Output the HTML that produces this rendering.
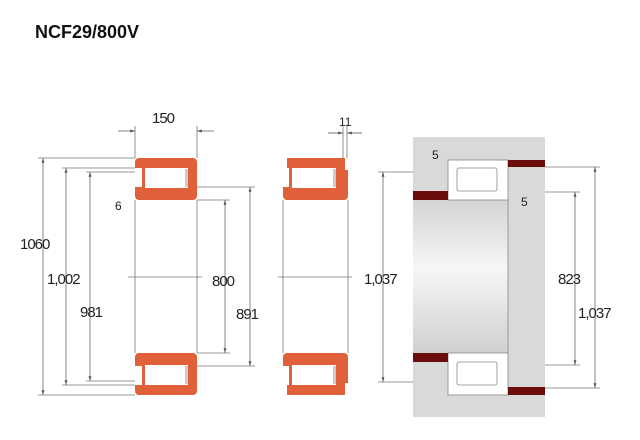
<!DOCTYPE html>
<html><head><meta charset="utf-8"><style>
body{margin:0;background:#fff}
svg{display:block}
text{font-family:"Liberation Sans",sans-serif;fill:#222}
</style></head><body>
<svg width="640" height="440" viewBox="0 0 640 440" xmlns="http://www.w3.org/2000/svg">
<defs>
<marker id="a" viewBox="0 0 10 10" refX="10" refY="5" markerWidth="6" markerHeight="6" orient="auto-start-reverse"><path d="M0,2 L10,5 L0,8z" fill="#555"/></marker>
<linearGradient id="sh" x1="0" y1="0" x2="0" y2="1"><stop offset="0" stop-color="#d4d4d4"/><stop offset="0.45" stop-color="#f6f6f6"/><stop offset="1" stop-color="#d0d0d0"/></linearGradient>
<g id="ring">
<rect x="0" y="0" width="62" height="42" rx="4" fill="#e0603a"/>
<rect x="10" y="10" width="43" height="20" fill="#fff"/>
<rect x="0" y="10" width="7" height="19" fill="#fff"/>
<rect x="50" y="11" width="3" height="18" fill="#ccc"/>
</g>
<g id="ring2">
<rect x="0" y="0" width="65" height="42" rx="4" fill="#e0603a"/>
<rect x="9" y="10" width="44" height="20" fill="#fff"/>
<rect x="0" y="10" width="6" height="19" fill="#fff"/>
<rect x="0" y="0" width="4" height="10" fill="#fff"/>
<rect x="62" y="0" width="3" height="12" fill="#fff"/>
<rect x="50" y="11" width="3" height="18" fill="#ccc"/>
</g>
</defs>
<text x="35" y="38" font-size="18" font-weight="bold" style="fill:#111">NCF29/800V</text>

<g stroke="#777" stroke-width="0.8" fill="none">
<line x1="135" y1="126" x2="135" y2="158"/><line x1="197" y1="126" x2="197" y2="158"/>
<line x1="135" y1="200" x2="135" y2="353"/><line x1="197" y1="200" x2="197" y2="353"/>
<line x1="128" y1="277" x2="202" y2="277"/>
<line x1="38" y1="158" x2="135" y2="158"/><line x1="38" y1="395" x2="135" y2="395"/>
<line x1="62" y1="168" x2="135" y2="168"/><line x1="62" y1="385" x2="135" y2="385"/>
<line x1="86" y1="172" x2="143" y2="172"/><line x1="86" y1="381" x2="143" y2="381"/>
<line x1="197" y1="200" x2="230" y2="200"/><line x1="197" y1="353" x2="230" y2="353"/>
<line x1="197" y1="187" x2="255" y2="187"/><line x1="197" y1="366" x2="255" y2="366"/>
<line x1="343" y1="126" x2="343" y2="160"/><line x1="347" y1="126" x2="347" y2="185"/>
<line x1="283" y1="200" x2="283" y2="353"/><line x1="348" y1="200" x2="348" y2="353"/>
<line x1="278" y1="277" x2="352" y2="277"/>
<line x1="378" y1="172" x2="413" y2="172"/><line x1="378" y1="382" x2="413" y2="382"/>
<line x1="508" y1="192" x2="580" y2="192"/><line x1="508" y1="365" x2="580" y2="365"/>
<line x1="545" y1="167" x2="600" y2="167"/><line x1="545" y1="388" x2="600" y2="388"/>
</g>
<g stroke="#666" stroke-width="0.8" fill="none" marker-start="url(#a)" marker-end="url(#a)">
<line x1="43" y1="158" x2="43" y2="395"/>
<line x1="66" y1="168" x2="66" y2="385"/>
<line x1="90" y1="172" x2="90" y2="381"/>
<line x1="225" y1="200" x2="225" y2="353"/>
<line x1="250" y1="187" x2="250" y2="366"/>
<line x1="383" y1="172" x2="383" y2="382"/>
<line x1="575" y1="192" x2="575" y2="365"/>
<line x1="595" y1="167" x2="595" y2="388"/>
</g>
<g stroke="#555" stroke-width="0.8" fill="none" marker-end="url(#a)">
<line x1="118" y1="131" x2="135" y2="131"/><line x1="214" y1="131" x2="197" y2="131"/>
<line x1="328" y1="133" x2="343" y2="133"/><line x1="362" y1="133" x2="347" y2="133"/>
</g>

<use href="#ring" x="135" y="158"/>
<use href="#ring" x="135" y="353" transform="translate(0,748) scale(1,-1)"/>
<use href="#ring2" x="283" y="158"/>
<use href="#ring2" x="283" y="353" transform="translate(0,748) scale(1,-1)"/>

<rect x="413" y="137" width="132" height="280" fill="#d9d9d9"/>
<rect x="413" y="200" width="95" height="153" fill="url(#sh)"/>
<line x1="508" y1="200" x2="508" y2="353" stroke="#888" stroke-width="0.8"/>
<g fill="#fff" stroke="#888" stroke-width="0.8">
<rect x="448" y="160" width="60" height="40"/>
<rect x="448" y="353" width="60" height="42"/>
<rect x="457" y="168" width="40" height="23" rx="2"/>
<rect x="457" y="362" width="40" height="23" rx="2"/>
</g>
<g fill="#6a0d0d">
<rect x="508" y="160" width="37" height="7"/>
<rect x="413" y="191" width="35" height="9"/>
<rect x="413" y="353" width="35" height="9"/>
<rect x="508" y="387" width="37" height="8"/>
</g>

<g font-size="15" letter-spacing="-1">
<text x="152" y="123">150</text>
<text x="20" y="249">1060</text>
<text x="47" y="284">1,002</text>
<text x="80" y="317">981</text>
<text x="212" y="286">800</text>
<text x="236" y="319">891</text>
<text x="364" y="284">1,037</text>
<text x="558" y="284">823</text>
<text x="578" y="318">1,037</text>
</g>
<g font-size="12">
<text x="115" y="210">6</text>
<text x="339" y="126">11</text>
<text x="432" y="159">5</text>
<text x="521" y="206">5</text>
</g>
</svg>
</body></html>
